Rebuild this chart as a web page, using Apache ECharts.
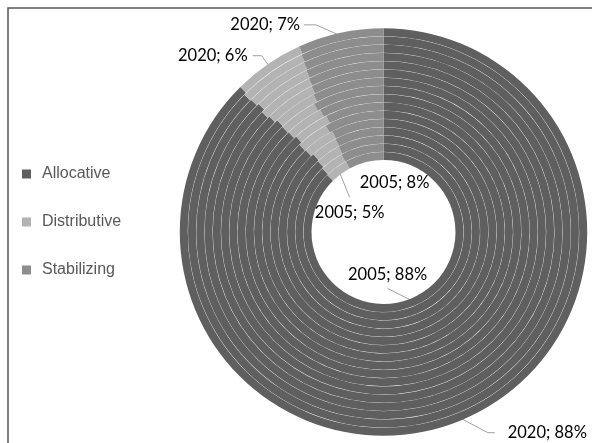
<!DOCTYPE html>
<html><head><meta charset="utf-8">
<script src="https://cdn.jsdelivr.net/npm/echarts@6/dist/echarts.min.js"></script>
<style>html,body{margin:0;padding:0;background:#fff}#c{width:592px;height:443px}</style>
</head><body><div id="c"></div>
<script>
// ---- data ----
const years = [2005, 2006, 2007, 2008, 2009, 2010, 2011, 2012, 2013, 2014, 2015, 2016, 2017, 2018, 2019, 2020];
const categories = ['Allocative', 'Distributive', 'Stabilizing'];
const allocative   = [87.6, 87.8, 88.1, 88.3, 87.9, 87.8, 88.2, 87.9, 87.8, 87.9, 87.6, 87.4, 87.7, 87.5, 87.4, 87.6];
const distributive = [4.6, 4.3, 4.2, 4.1, 4.6, 4.3, 4.5, 4.5, 4.3, 4.6, 5.1, 5.4, 5.2, 5.5, 5.7, 5.6];
const stabilizing  = [7.8, 7.9, 7.7, 7.6, 7.5, 7.9, 7.3, 7.6, 7.9, 7.5, 7.3, 7.2, 7.1, 7.0, 6.9, 6.8];

// ---- style / layout ----
const colors = ['#5f5f5f', '#b3b3b3', '#8d8d8d'];
const CX = 383.5, CY = 232, R_IN = 72, R_OUT = 204, GAP = 0.3;
const ringW = (R_OUT - R_IN) / years.length;
const labelStyle = {
  first: [
    { r: 'in', elbow: [-24, -12], end: [0, 0], text: [0, -14], align: 'center' },
    { r: 'in', elbow: [10, 25], end: [0, 0], text: [0, 15], align: 'center' },
    { r: 'in', elbow: [0, 0], end: [0, 0], text: [29, 22], align: 'center', noLine: true }
  ],
  last: [
    { r: 'out', elbow: [28, 15], end: [7, 0], text: [13, 0], align: 'left' },
    { r: 'out', elbow: [-8, -11], end: [-9, 0], text: [-5, 0], align: 'right' },
    { r: 'out', elbow: [-25, -11], end: [-12, 0], text: [-4, 0], align: 'right' }
  ]
};

const seriesVals = [allocative, distributive, stabilizing];
const series = years.map((yr, k) => {
  const vals = seriesVals.map(a => a[k]);
  const total = vals.reduce((s, v) => s + v, 0);
  const r0 = R_IN + k * ringW, r1 = R_IN + (k + 1) * ringW - GAP;
  const labelled = (k === 0 || k === years.length - 1);
  const styles = k === 0 ? labelStyle.first : labelStyle.last;
  return {
    type: 'pie',
    name: String(yr),
    center: [CX, CY],
    radius: [r0, r1],
    startAngle: 90,
    clockwise: true,
    silent: true,
    animation: false,
    avoidLabelOverlap: false,
    itemStyle: { borderWidth: 0 },
    emphasis: { disabled: true },
    label: {
      show: labelled,
      position: 'outside',
      fontFamily: 'Lato',
      fontSize: 16.5,
      color: '#000',
      formatter: p => yr + '; ' + Math.round(p.value) + '%'
    },
    labelLine: { show: labelled, lineStyle: { color: '#a0a0a0', width: 1 } },
    labelLayout: labelled ? function (params) {
      const j = params.dataIndex;
      const st = styles[j];
      let cum = 0;
      for (let i = 0; i < j; i++) cum += vals[i];
      const mid = (cum + vals[j] / 2) / total * 2 * Math.PI;
      const rr = st.r === 'in' ? r0 + 2 : r1 - 3;
      const ax = CX + rr * Math.sin(mid), ay = CY - rr * Math.cos(mid);
      const ex = ax + st.elbow[0], ey = ay + st.elbow[1];
      const fx = ex + st.end[0], fy = ey + st.end[1];
      return {
        x: fx + st.text[0], y: fy + st.text[1],
        align: st.align, verticalAlign: 'middle',
        labelLinePoints: st.noLine ? [[ax, ay], [ax, ay], [ax, ay]] : [[ax, ay], [ex, ey], [fx, fy]]
      };
    } : undefined,
    data: categories.map((c, j) => ({
      name: c,
      value: vals[j],
      itemStyle: { color: colors[j] },
      labelLine: (k === 0 && j === 2) ? { show: false } : undefined
    }))
  };
});

const chart = echarts.init(document.getElementById('c'), null, { renderer: 'canvas' });
chart.setOption({
  backgroundColor: '#fff',
  animation: false,
  legend: {
    data: categories,
    orient: 'vertical',
    left: 17, top: 161,
    itemWidth: 9, itemHeight: 9, itemGap: 32,
    icon: 'rect',
    selectedMode: false,
    textStyle: { fontFamily: 'Liberation Sans', fontSize: 16, color: '#595959', padding: [0, 0, 0, 6] }
  },
  graphic: [
    { type: 'polyline', silent: true, shape: { points: [[8, 443], [8, 8], [592, 8]] },
      style: { stroke: '#555', lineWidth: 1.5, fill: null } }
  ],
  series: series
});
</script>
</body></html>
